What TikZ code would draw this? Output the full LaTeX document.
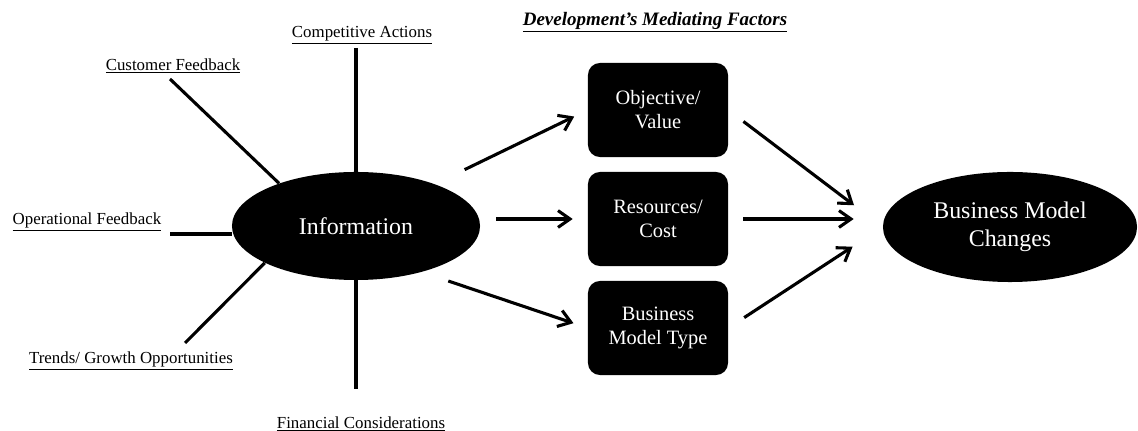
\documentclass[tikz,border=0pt]{standalone}
\usepackage{fontspec}
\setmainfont{Liberation Serif}
\usetikzlibrary{arrows.meta,shapes.geometric}
\def\lbl#1{\underline{#1}}

\begin{document}
\begin{tikzpicture}[x=0.025cm, y=-0.025cm,
	spoke/.style={line width=2.2pt, color=black},
	flow/.style={line width=2.2pt, color=black, -{Straight Barb[length=3mm,width=4.2mm]}},
	blob/.style={ellipse, fill=black, text=white, inner sep=0pt, align=center, font=\fontsize{17}{20}\selectfont},
	factor/.style={rectangle, rounded corners=0.3cm, fill=black, text=white, minimum width=3.5cm, minimum height=2.35cm, align=center, font=\fontsize{14.5}{17}\selectfont},
	source/.style={font=\fontsize{12}{14}\selectfont, inner sep=0pt}]
			%%%%% START %%%%%
			
			\useasboundingbox (0, 0) rectangle (1138, 431);
			
			\node[font=\fontsize{13.5}{16}\selectfont\bfseries\itshape, inner sep=0pt] (title) at (655, 22) {\lbl{Development's Mediating Factors}};
			
			\node[blob, minimum width=6.2cm, minimum height=2.7cm] (info) at (356, 226) {Information};
			\node[blob, minimum width=6.35cm, minimum height=2.75cm] (bmc) at (1010, 227) {Business Model\\Changes};
			
			\node[factor] (obj) at (658, 110) {Objective/\\Value};
			\node[factor] (res) at (658, 219) {Resources/\\Cost};
			\node[factor] (typ) at (658, 328) {Business\\Model Type};
			
			\node[source] (comp) at (362, 35) {\lbl{Competitive Actions}};
			\node[source] (cust) at (173, 66) {\lbl{Customer Feedback}};
			\node[source] (oper) at (87, 222) {\lbl{Operational Feedback}};
			\node[source] (trend) at (131, 361) {\lbl{Trends/ Growth Opportunities}};
			\node[source] (fin) at (361, 424) {\lbl{Financial Considerations}};
			
			\coordinate (compend) at (356, 48);
			\coordinate (custend) at (170, 79);
			\coordinate (operend) at (170, 234);
			\coordinate (trendend) at (185, 343);
			\coordinate (finend) at (356, 389);
			
			\draw[spoke] (compend) -- (info.north);
			\draw[spoke] (custend) -- (info.151);
			\draw[spoke] (operend) -- (operend -| info.west);
			\draw[spoke] (trendend) -- (info.202);
			\draw[spoke] (info.south) -- (finend);
			
			\draw[flow, shorten <=33*0.025cm, shorten >=15*0.025cm] (info.28) -- (obj.west);
			\draw[flow, shorten <=16*0.025cm, shorten >=15*0.025cm] (info.east |- res.west) -- (res.west);
			\draw[flow, shorten <=28*0.025cm, shorten >=15*0.025cm] (info.-35) -- (typ.west);
			
			\draw[flow, shorten <=19*0.025cm, shorten >=36*0.025cm] (obj.east) -- (bmc.west);
			\draw[flow, shorten <=15*0.025cm, shorten >=29*0.025cm] (res.east) -- (bmc.west |- res.east);
			\draw[flow, shorten <=19*0.025cm, shorten >=36*0.025cm] (typ.east) -- (bmc.west);
			
			%%%%% END %%%%%
		\end{tikzpicture}
\end{document}
